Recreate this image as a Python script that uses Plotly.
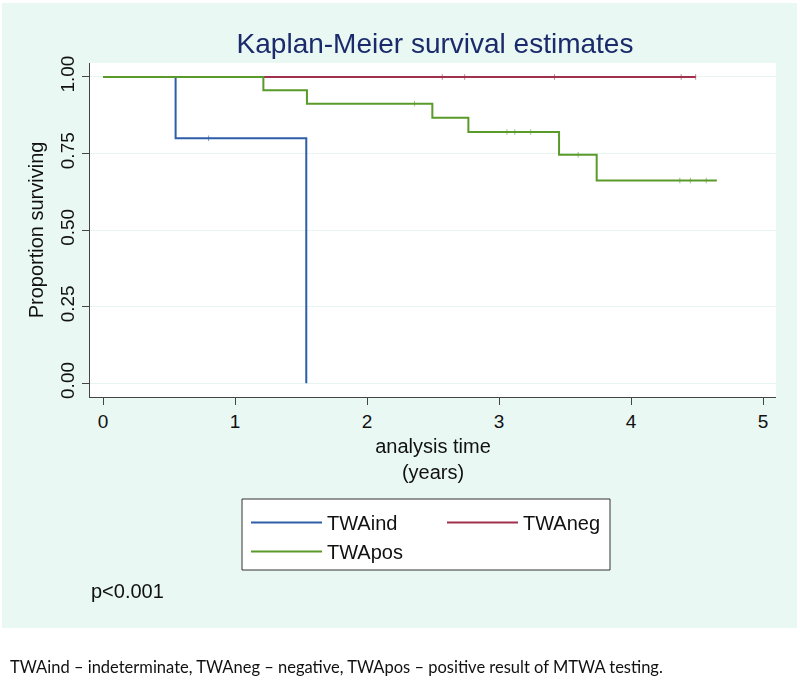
import plotly.graph_objects as go

# ---------------- data ----------------
ind_time = [0.0, 0.55, 1.54]
ind_surv = [1.0, 0.80, 0.0]
ind_cens_t = [0.80]
ind_cens_s = [0.80]

neg_time = [0.0, 4.49]
neg_surv = [1.0, 1.0]
neg_cens_t = [2.57, 2.74, 3.42, 4.38, 4.49]
neg_cens_s = [1.0, 1.0, 1.0, 1.0, 1.0]

pos_time = [0.0, 1.215, 1.545, 2.495, 2.768, 3.455, 3.74, 4.65]
pos_surv = [1.0, 0.957, 0.913, 0.867, 0.820, 0.746, 0.662, 0.662]
pos_cens_t = [2.36, 3.06, 3.12, 3.24, 3.60, 4.37, 4.45, 4.57]
pos_cens_s = [0.913, 0.820, 0.820, 0.820, 0.746, 0.662, 0.662, 0.662]

x_ticks = [0, 1, 2, 3, 4, 5]
y_ticks = [0.0, 0.25, 0.50, 0.75, 1.0]
y_tick_text = ["0.00", "0.25", "0.50", "0.75", "1.00"]

names = ["TWAind", "TWAneg", "TWApos"]
colors = ["#2e5ea6", "#a0304e", "#5a9a2a"]

title_text = "Kaplan-Meier survival estimates"
x_title = "analysis time<br>(years)"
y_title = "Proportion surviving"
p_text = "p<0.001"
caption = "TWAind \u2013 indeterminate, TWAneg \u2013 negative, TWApos \u2013 positive result of MTWA testing."

# ---------------- figure ----------------
W, H = 800, 677
L, R, T, B = 90, 24, 63, 280
pw, ph = W - L - R, H - T - B

def px_x(px):
    return (px - L) / pw

def px_y(py):
    return (H - B - py) / ph

fig = go.Figure()

series = [
    (ind_time, ind_surv, ind_cens_t, ind_cens_s, "legend"),
    (neg_time, neg_surv, neg_cens_t, neg_cens_s, "legend2"),
    (pos_time, pos_surv, pos_cens_t, pos_cens_s, "legend"),
]
for (t, s, ct, cs, lg), name, col in zip(series, names, colors):
    fig.add_trace(go.Scatter(
        x=t, y=s, mode="lines", name=name, line=dict(color=col, width=2, shape="hv"),
        legend=lg, hoverinfo="skip"))
    fig.add_trace(go.Scatter(
        x=ct, y=cs, mode="markers", name=name, showlegend=False, legend=lg,
        hoverinfo="skip", opacity=0.6,
        marker=dict(symbol="line-ns-open", size=4, color=col,
                    line=dict(color=col, width=1))))

font_main = "Liberation Sans, Arial, sans-serif"
mint = "#eaf8f4"

shapes = [
    # outer mint graph region
    dict(type="rect", xref="paper", yref="paper", layer="below",
         x0=px_x(2), x1=px_x(797), y0=px_y(628), y1=px_y(3),
         fillcolor=mint, line=dict(width=0)),
    # white plot region
    dict(type="rect", xref="paper", yref="paper", layer="below",
         x0=0, x1=1, y0=0, y1=1, fillcolor="white", line=dict(width=0)),
    # legend box
    dict(type="rect", xref="paper", yref="paper", layer="below",
         x0=px_x(242), x1=px_x(610), y0=px_y(570), y1=px_y(499),
         fillcolor="white", line=dict(color="#333333", width=1)),
]

legend_common = dict(xanchor="left", yanchor="top", xref="paper", yref="paper",
                     orientation="v", bgcolor="rgba(0,0,0,0)", borderwidth=0,
                     itemwidth=71, tracegroupgap=0,
                     font=dict(size=20, color="#111111"))

fig.update_layout(
    width=W, height=H,
    margin=dict(l=L, r=R, t=T, b=B),
    paper_bgcolor="white", plot_bgcolor="white",
    font=dict(family=font_main, color="#111111", size=19),
    title=dict(text=title_text, x=px_x(435), xref="paper", xanchor="center",
               y=1 - 43 / H, yref="container", yanchor="middle",
               font=dict(size=28, color="#1b2a6b", family=font_main)),
    shapes=shapes,
    showlegend=True,
    legend=dict(x=px_x(246), y=px_y(503), **legend_common),
    legend2=dict(x=px_x(442), y=px_y(503), **legend_common),
    annotations=[
        dict(text=p_text, xref="paper", yref="paper", x=px_x(89), y=px_y(591),
             xanchor="left", yanchor="middle", showarrow=False,
             font=dict(size=20, color="#111111", family=font_main)),
        dict(text=caption, xref="paper", yref="paper", x=px_x(8), y=px_y(667),
             xanchor="left", yanchor="middle", showarrow=False,
             font=dict(size=16.5, color="#111111",
                       family="Liberation Sans Narrow, Arial Narrow, Lato, sans-serif")),
    ],
)

fig.update_xaxes(
    range=[(L - 103) / 132, (L + pw - 103) / 132],
    tickvals=x_ticks, ticks="outside", ticklen=7, tickcolor="#444444",
    showline=True, linecolor="#444444", linewidth=1, mirror=False,
    showgrid=False, zeroline=False,
    tickfont=dict(size=19),
    title=dict(text=x_title, font=dict(size=20), standoff=8),
)
fig.update_yaxes(
    range=[-(397 - 383.3) / 306.7, 1 + (77 - 63) / 306.7],
    tickvals=y_ticks, ticktext=y_tick_text, tickangle=-90,
    ticks="outside", ticklen=7, tickcolor="#444444",
    showline=True, linecolor="#444444", linewidth=1,
    showgrid=True, gridcolor="#e6f5f0", gridwidth=1, zeroline=False,
    tickfont=dict(size=19),
    title=dict(text=y_title, font=dict(size=20), standoff=8),
)

fig.write_html("out.html", config={"displayModeBar": False},
               post_script="document.body.style.margin='0';document.body.style.padding='0';")
